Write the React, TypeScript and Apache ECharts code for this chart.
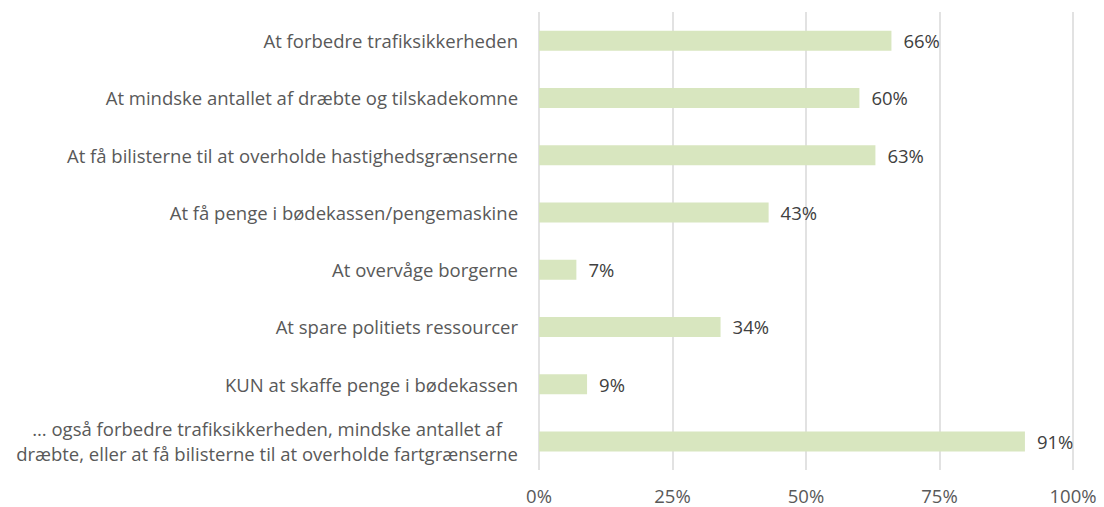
import React, { useEffect, useRef } from "react";
import * as echarts from "echarts";

const categories = [
  "At forbedre trafiksikkerheden",
  "At mindske antallet af dræbte og tilskadekomne",
  "At få bilisterne til at overholde hastighedsgrænserne",
  "At få penge i bødekassen/pengemaskine",
  "At overvåge borgerne",
  "At spare politiets ressourcer",
  "KUN at skaffe penge i bødekassen",
  "… også forbedre trafiksikkerheden, mindske antallet af\ndræbte, eller at få bilisterne til at overholde fartgrænserne",
];
const values = [66, 60, 63, 43, 7, 34, 9, 91];

export default function App() {
  const ref = useRef<HTMLDivElement>(null);
  useEffect(() => {
    document.body.style.margin = "0";
    const chart = echarts.init(ref.current!, undefined, { renderer: "svg" });
    const font = "Open Sans";
    const fs = 18.5;
    chart.setOption({
      animation: false,
      grid: { left: 539, right: 31, top: 12, bottom: 37, containLabel: false },
      xAxis: {
        type: "value",
        min: 0,
        max: 100,
        interval: 25,
        axisLine: { show: false },
        axisTick: { show: false },
        splitLine: { show: true, lineStyle: { color: "#d9d9d9", width: 1.5 } },
        axisLabel: {
          formatter: "{value}%",
          color: "#595959",
          fontFamily: font,
          fontSize: fs,
          margin: 16,
        },
      },
      yAxis: {
        type: "category",
        data: categories,
        inverse: true,
        axisLine: { show: false },
        axisTick: { show: false },
        axisLabel: {
          color: "#595959",
          fontFamily: font,
          fontSize: fs,
          margin: 21,
          lineHeight: 25,
          formatter: (v: string) => `{c|${v.split("\n").join("}\n{c|")}}`,
          rich: {
            c: { align: "center", color: "#595959", fontFamily: font, fontSize: fs, lineHeight: 25 },
          },
        },
      },
      series: [
        {
          type: "bar",
          data: values,
          barWidth: 20,
          itemStyle: { color: "#d8e6bf" },
          label: {
            show: true,
            position: "right",
            distance: 12,
            formatter: "{c}%",
            color: "#404040",
            fontFamily: font,
            fontSize: fs,
          },
        },
      ],
    });
    return () => chart.dispose();
  }, []);
  return <div ref={ref} style={{ width: 1104, height: 507 }} />;
}
